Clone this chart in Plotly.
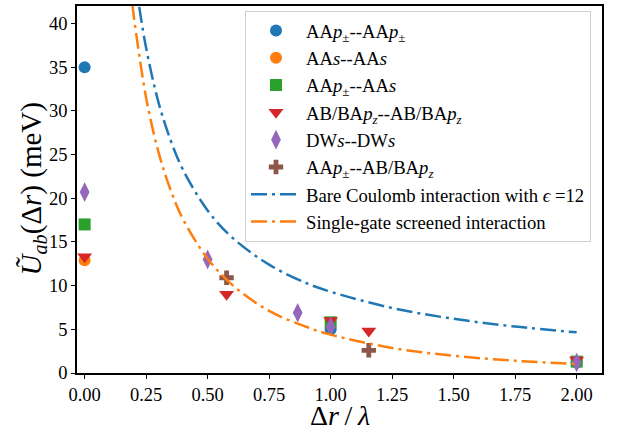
import plotly.graph_objects as go

# Scatter series: separation (in units of lambda) and interaction (meV)
aap_aap_x = [0.0, 1.0, 2.0]
aap_aap_y = [35.0, 5.0, 1.2]

aas_aas_x = [0.0]
aas_aas_y = [12.9]

aap_aas_x = [0.0, 1.0, 2.0]
aap_aas_y = [17.0, 5.8, 1.3]

abpz_x = [0.0, 0.577, 1.0, 1.155, 2.0]
abpz_y = [13.3, 9.0, 6.0, 4.8, 1.5]

dws_x = [0.0, 0.5, 0.866, 1.0, 2.0]
dws_y = [20.7, 13.0, 6.9, 5.3, 1.2]

aap_abpz_x = [0.577, 1.155]
aap_abpz_y = [10.9, 2.6]

# Reference curves
bare_x = [0.222, 0.25, 0.3, 0.35, 0.4, 0.5, 0.6, 0.75, 0.9, 1.0, 1.25, 1.5, 1.75, 2.0]
bare_y = [41.9, 37.2, 31.0, 26.6, 23.25, 18.6, 15.5, 12.4, 10.3, 9.3, 7.44, 6.2, 5.31, 4.65]

gate_x = [0.194, 0.2, 0.25, 0.3, 0.35, 0.4, 0.5, 0.6, 0.75, 0.9, 1.0, 1.25, 1.5, 1.75, 2.0]
gate_y = [42.2, 40.8, 31.5, 25.3, 20.9, 17.6, 13.08, 10.08, 7.1, 5.29, 4.39, 2.87, 1.97, 1.40, 1.03]

x_ticks = [0.0, 0.25, 0.5, 0.75, 1.0, 1.25, 1.5, 1.75, 2.0]
y_ticks = [0, 5, 10, 15, 20, 25, 30, 35, 40]

FONT = "Liberation Serif"
DASHDOT = "16px,5px,3px,5px"

fig = go.Figure()

markers = [
    ("AA<i>p</i><sub>±</sub>--AA<i>p</i><sub>±</sub>", aap_aap_x, aap_aap_y, "#1f77b4", "circle", 12),
    ("AA<i>s</i>--AA<i>s</i>", aas_aas_x, aas_aas_y, "#ff7f0e", "circle", 12),
    ("AA<i>p</i><sub>±</sub>--AA<i>s</i>", aap_aas_x, aap_aas_y, "#2ca02c", "square", 12),
    ("AB/BA<i>p<sub>z</sub></i>--AB/BA<i>p<sub>z</sub></i>", abpz_x, abpz_y, "#d62728", "triangle-down", 13),
    ("DW<i>s</i>--DW<i>s</i>", dws_x, dws_y, "#9467bd", "diamond-tall", 14),
    ("AA<i>p</i><sub>±</sub>--AB/BA<i>p<sub>z</sub></i>", aap_abpz_x, aap_abpz_y, "#8c564b", "cross", 12),
]

for i, (name, xs, ys, color, symbol, size) in enumerate(markers):
    fig.add_trace(go.Scatter(
        x=xs, y=ys, mode="markers", name=name, legendgroup=f"g{i}",
        marker=dict(color=color, symbol=symbol, size=size, line=dict(width=0)),
        cliponaxis=False,
    ))

fig.add_trace(go.Scatter(
    x=bare_x, y=bare_y, mode="lines", name="Bare Coulomb interaction with <i>ϵ</i> =12",
    legendgroup="g6", line=dict(color="#1f77b4", width=2.5, dash=DASHDOT, shape="spline"),
))
fig.add_trace(go.Scatter(
    x=gate_x, y=gate_y, mode="lines", name="Single-gate screened interaction",
    legendgroup="g7", line=dict(color="#ff7f0e", width=2.5, dash=DASHDOT, shape="spline"),
))

axis_common = dict(
    showline=True, linecolor="black", linewidth=1.8, mirror=True,
    ticks="outside", ticklen=4, tickwidth=1, tickcolor="black",
    showgrid=False, zeroline=False, automargin=False,
    tickfont=dict(family=FONT, size=18.5, color="black"),
)

fig.update_xaxes(
    range=[-0.031, 2.103], tickvals=x_ticks, ticktext=[f"{v:.2f}" for v in x_ticks],
    **axis_common,
)
fig.update_yaxes(
    range=[0, 42], tickvals=y_ticks, ticktext=[str(v) for v in y_ticks],
    **axis_common,
)

# axis labels as annotations positioned relative to the plot area
fig.add_annotation(
    text="Δ<i>r</i>\u2009/\u2009<i>λ</i>",
    xref="paper", yref="paper", x=0.5, y=0, xanchor="center", yanchor="middle",
    yshift=-42, showarrow=False,
    font=dict(family=FONT, size=28, color="black"),
)
fig.add_annotation(
    text="<i>Ũ</i><sub><i>ab</i></sub>(Δ<i>r</i>) (meV)",
    xref="paper", yref="paper", x=0, y=0.5, xanchor="center", yanchor="middle",
    xshift=-45, textangle=-90, showarrow=False,
    font=dict(family=FONT, size=29, color="black"),
)

fig.update_layout(
    width=619, height=430,
    margin=dict(l=77, r=17, t=6, b=57, autoexpand=False),
    paper_bgcolor="white", plot_bgcolor="white",
    font=dict(family=FONT, color="black"),
    legend=dict(
        x=0.32, y=0.987, xanchor="left", yanchor="top",
        bgcolor="rgba(255,255,255,0.8)", bordercolor="#d0d0d0", borderwidth=1,
        font=dict(family=FONT, size=18.7, color="black"),
        traceorder="grouped", tracegroupgap=0, itemwidth=50,
    ),
)

fig.write_html("out.html")
